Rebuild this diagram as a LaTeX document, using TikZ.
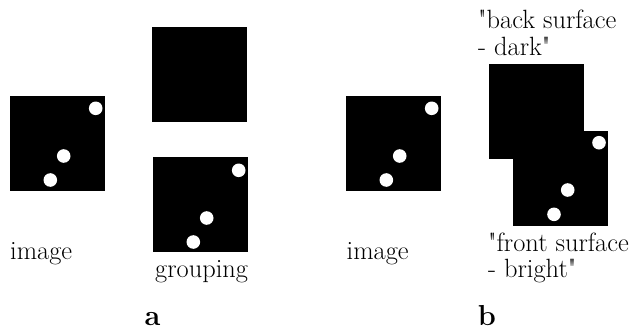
\documentclass[tikz,border=0pt]{standalone}
\begin{document}
\begin{tikzpicture}[x=1bp, y=-1bp,
  sq/.style={fill=black, draw=none, minimum size=95bp, inner sep=0pt, outer sep=0pt},
  dot/.style={circle, fill=white, draw=none, minimum size=13.6bp, inner sep=0pt},
  lbl/.style={anchor=base west, inner sep=0pt, font=\fontsize{26.5}{28}\selectfont},
  panel/.style={anchor=base, inner sep=0pt, font=\fontsize{29}{31}\selectfont\bfseries}]
\useasboundingbox (0,0) rectangle (633,330);

% panel a: the image
\node[sq] (imgA) at (57.5,143.5) {};
\node[dot] (imgA1) at (95.7,108.3) {};
\node[dot] (imgA2) at (63.7,156) {};
\node[dot] (imgA3) at (50.3,180) {};
\node[lbl] (imgAtxt) at (10,259) {image};

% panel a: the grouping, split into two squares
\node[sq] (grpTop) at (199.5,74.5) {};
\node[sq] (grpBot) at (200.5,204.5) {};
\node[dot] (grp1) at (238.7,170.3) {};
\node[dot] (grp2) at (206.7,218) {};
\node[dot] (grp3) at (193.3,242) {};
\node[lbl] (grpTxt) at (155,277) {grouping};
\node[panel] (labA) at (152.5,325) {a};

% panel b: the image
\node[sq] (imgB) at (393.5,143) {};
\node[dot] (imgB1) at (431.7,108.3) {};
\node[dot] (imgB2) at (399.7,156) {};
\node[dot] (imgB3) at (386.3,180) {};
\node[lbl] (imgBtxt) at (346.5,259) {image};

% panel b: back and front surfaces
\node[sq] (back) at (536.8,111.8) {};
\node[sq] (front) at (560.8,178.5) {};
\node[dot] (fr1) at (599,142.7) {};
\node[dot] (fr2) at (567.7,190) {};
\node[dot] (fr3) at (554,214.3) {};
\node[lbl] (backTxt1) at (478,28.5) {\textquotedbl back surface};
\node[lbl] (backTxt2) at (478,55) {- dark\textquotedbl};
\node[lbl] (frontTxt1) at (488,251.7) {\textquotedbl front surface};
\node[lbl] (frontTxt2) at (488,277.7) {- bright\textquotedbl};
\node[panel] (labB) at (487,325) {b};
\end{tikzpicture}
\end{document}
